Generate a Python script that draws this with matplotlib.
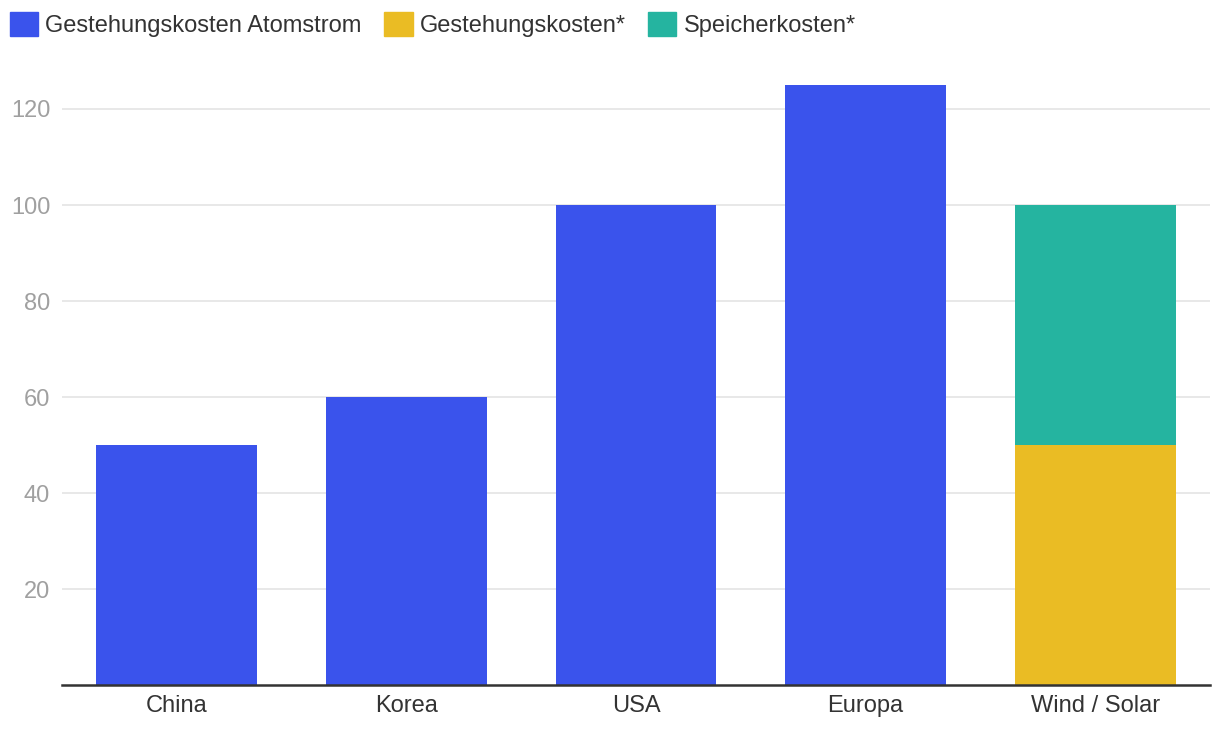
import matplotlib
matplotlib.use("Agg")
import matplotlib.pyplot as plt
from matplotlib.patches import Patch

categories = ["China", "Korea", "USA", "Europa", "Wind / Solar"]
atomstrom = [50, 60, 100, 125, 0]
gestehung = [0, 0, 0, 0, 50]
speicher = [0, 0, 0, 0, 50]
yticks = [20, 40, 60, 80, 100, 120]

c_blue = "#3A53EC"
c_yellow = "#EABC24"
c_teal = "#25B4A0"

plt.rcParams['font.family'] = ['Liberation Sans', 'DejaVu Sans']

fig = plt.figure(figsize=(12.2, 7.36), dpi=100)
ax = fig.add_axes([62/1220, 1-685/736, (1210-62)/1220, (685-61)/736])

x = list(range(len(categories)))
w = 0.70
ax.bar(x, atomstrom, width=w, color=c_blue, zorder=2)
ax.bar(x, gestehung, width=w, color=c_yellow, zorder=2)
ax.bar(x, speicher, width=w, bottom=gestehung, color=c_teal, zorder=2)

ax.set_xlim(-0.5, len(categories) - 0.5)
ax.set_ylim(0, 130)
ax.set_yticks(yticks)
ax.set_yticklabels([str(v) for v in yticks])
ax.set_xticks(x)
ax.set_xticklabels(categories)
ax.grid(axis='y', color='#e6e6e6', linewidth=1.3, zorder=0)
for s in ['top', 'right', 'left']:
    ax.spines[s].set_visible(False)
ax.spines['bottom'].set_color('#333333')
ax.spines['bottom'].set_linewidth(1.8)
ax.spines['bottom'].set_zorder(3)
ax.tick_params(axis='y', length=0, pad=8.5, labelsize=17, labelcolor='#a0a0a0')
ax.tick_params(axis='x', length=0, pad=7.5, labelsize=17, labelcolor='#333333')

handles = [Patch(color=c_blue, label="Gestehungskosten Atomstrom"),
           Patch(color=c_yellow, label="Gestehungskosten*"),
           Patch(color=c_teal, label="Speicherkosten*")]
leg = fig.legend(handles=handles, loc='upper left',
                 bbox_to_anchor=(10/1220, 1-12/736),
                 ncol=3, frameon=False, fontsize=17, handlelength=1.2,
                 handleheight=1.2, handletextpad=0.3, columnspacing=0.95,
                 borderaxespad=0.0, borderpad=0.0, labelcolor='#333333')

fig.savefig("out.png", dpi=100)
